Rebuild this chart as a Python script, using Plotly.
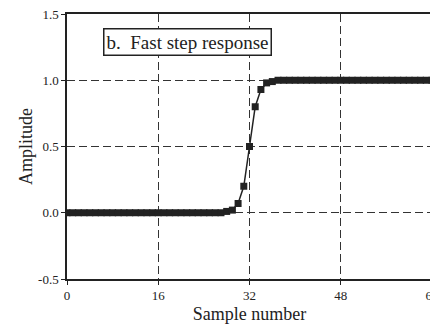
import plotly.graph_objects as go

samples = list(range(0, 65))
# step values
step_vals = {28: 0.01, 29: 0.02, 30: 0.07, 31: 0.2, 32: 0.5, 33: 0.8, 34: 0.93, 35: 0.98, 36: 0.99}
amplitude = [0.0 if n < 28 else step_vals.get(n, 1.0) for n in samples]

x_ticks = [0, 16, 32, 48, 64]
y_ticks = [-0.5, 0.0, 0.5, 1.0, 1.5]
y_tick_text = ["-0.5", "0.0", "0.5", "1.0", "1.5"]
title_text = "b.  Fast step response"

fig = go.Figure()
fig.add_trace(go.Scatter(
    x=samples, y=amplitude, mode="lines+markers",
    line=dict(color="#222", width=1.5),
    marker=dict(symbol="square", size=7, color="#222"),
    showlegend=False,
))

font = dict(family="Liberation Serif, Times New Roman, serif", color="#222")

# page body has an 8px margin, so the figure is sized to fit the window
fig.update_layout(
    width=430, height=319,
    margin=dict(l=59, r=6, t=6, b=48, autoexpand=False),
    paper_bgcolor="white", plot_bgcolor="white",
    font=dict(size=12, **font),
    xaxis=dict(
        range=[0, 64], tickvals=x_ticks, ticks="outside", ticklen=4,
        tickcolor="#222", showline=True, linecolor="#222", linewidth=1.5,
        mirror=True, showgrid=True, gridcolor="#333", griddash="8px,4px", gridwidth=1,
        zeroline=False, automargin=False, ticklabeloverflow="allow",
        title=dict(text="Sample number", font=dict(size=18, **font), standoff=5),
        tickfont=dict(size=13, **font),
    ),
    yaxis=dict(
        range=[-0.5, 1.5], tickvals=y_ticks, ticktext=y_tick_text, ticks="outside",
        ticklen=4, tickcolor="#222", showline=True, linecolor="#222", linewidth=1.5,
        mirror=True, showgrid=True, gridcolor="#333", griddash="8px,4px", gridwidth=1,
        zeroline=False, automargin=False, ticklabeloverflow="allow",
        title=dict(text="Amplitude", font=dict(size=18, **font), standoff=1),
        tickfont=dict(size=13, **font),
    ),
    annotations=[dict(
        text=title_text, xref="paper", yref="paper",
        x=36 / 365, y=1 - 14 / 265, xanchor="left", yanchor="top",
        showarrow=False, font=dict(size=19, **font),
        bordercolor="#222", borderwidth=1.5, borderpad=2, bgcolor="white",
    )],
)

fig.write_html("out.html")
